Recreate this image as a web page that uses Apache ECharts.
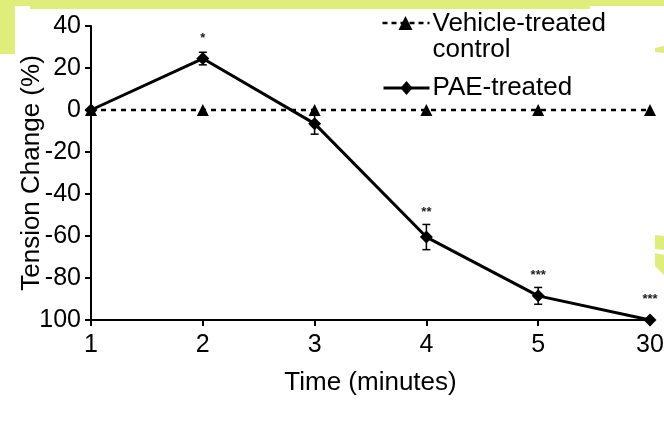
<!DOCTYPE html>
<html><head><meta charset="utf-8">
<script src="https://cdn.jsdelivr.net/npm/echarts@6/dist/echarts.min.js"></script>
<style>html,body{margin:0;padding:0;background:#fff}#c{width:664px;height:423px}</style>
</head><body><div id="c"></div>
<script>
var categories = ['1','2','3','4','5','30'];
var vehicle = [0, 0, 0, 0, 0, 0];
var pae = [0, 24.5, -6.5, -60.5, -88.5, -100];
var paeErr = [0, 3, 5, 6, 4, 0];
var signif = ['', '*', '', '**', '***', '***'];
var yTickLabels = ['100', '-80', '-60', '-40', '-20', '0', '20', '40'];
var seriesNames = ['Vehicle-treated\ncontrol', 'PAE-treated'];

var FONT = 'Liberation Sans';
var YC = '#dfee7b';

var errData = categories.map(function (c, i) {
  return [i, pae[i] - paeErr[i], pae[i] + paeErr[i], signif[i], paeErr[i]];
});

var chart = echarts.init(document.getElementById('c'), null, {renderer: 'canvas'});
chart.setOption({
  backgroundColor: '#ffffff',
  animation: false,
  textStyle: {fontFamily: FONT},
  grid: {left: 91, right: 14, top: 26, bottom: 103, containLabel: false, outerBoundsMode: 'none'},
  xAxis: {
    type: 'category', data: categories, boundaryGap: false,
    name: 'Time (minutes)', nameLocation: 'middle', nameGap: 50, nameMoveOverlap: false,
    nameTextStyle: {fontSize: 26, color: '#000', fontFamily: FONT},
    axisLine: {onZero: false, lineStyle: {color: '#000', width: 2}},
    axisTick: {show: true, length: 6, lineStyle: {color: '#000', width: 2}},
    axisLabel: {fontSize: 25, color: '#000', margin: 13, fontFamily: FONT},
    splitLine: {show: false}
  },
  yAxis: {
    type: 'value', min: -100, max: 40, interval: 20,
    name: 'Tension Change (%)', nameLocation: 'middle', nameGap: 46, nameMoveOverlap: false,
    nameTextStyle: {fontSize: 26, color: '#000', fontFamily: FONT},
    axisLine: {show: true, onZero: false, lineStyle: {color: '#000', width: 2}},
    axisTick: {show: true, length: 6, lineStyle: {color: '#000', width: 2}},
    axisLabel: {fontSize: 25, color: '#000', margin: 10, fontFamily: FONT,
      formatter: function (v) { return yTickLabels[Math.round((v + 100) / 20)]; }},
    splitLine: {show: false}
  },
  series: [
    {
      name: seriesNames[0], type: 'line', data: vehicle,
      symbol: 'triangle', symbolSize: 12,
      lineStyle: {color: '#000', width: 2.5, type: [5, 5]},
      itemStyle: {color: '#000'}, z: 3
    },
    {
      name: seriesNames[1], type: 'line', data: pae,
      symbol: 'diamond', symbolSize: 13,
      lineStyle: {color: '#000', width: 3},
      itemStyle: {color: '#000'}, z: 4
    },
    {
      type: 'custom', data: errData, z: 5,
      renderItem: function (params, api) {
        var x = api.value(0);
        var lo = api.coord([x, api.value(1)]);
        var hi = api.coord([x, api.value(2)]);
        var mid = api.coord([x, (api.value(1) + api.value(2)) / 2]);
        var s = api.value(3);
        var e = api.value(4);
        var children = [];
        var st = {stroke: '#000', lineWidth: 1.5};
        if (e > 0) {
          children.push({type: 'line', shape: {x1: lo[0], y1: lo[1], x2: hi[0], y2: hi[1]}, style: st});
          children.push({type: 'line', shape: {x1: lo[0] - 4, y1: lo[1], x2: lo[0] + 4, y2: lo[1]}, style: st});
          children.push({type: 'line', shape: {x1: hi[0] - 4, y1: hi[1], x2: hi[0] + 4, y2: hi[1]}, style: st});
        }
        if (s) {
          children.push({type: 'text', style: {
            text: s, x: hi[0], y: Math.min(hi[1], mid[1] - 8) - 6,
            align: 'center', verticalAlign: 'bottom',
            font: 'bold 13px ' + FONT, fill: '#222'
          }});
        }
        return {type: 'group', children: children};
      }
    }
  ],
  graphic: [
    {type: 'rect', z: -10, shape: {x: 0, y: 0, width: 664, height: 6}, style: {fill: YC}},
    {type: 'rect', z: -10, shape: {x: 30, y: 0, width: 560, height: 9}, style: {fill: YC}},
    {type: 'rect', z: -10, shape: {x: 0, y: 0, width: 15, height: 54}, style: {fill: YC}},
    {type: 'polygon', z: -10, shape: {points: [[655, 48], [664, 46], [664, 53], [655, 52]]}, style: {fill: YC}},
    {type: 'polygon', z: -10, shape: {points: [[655, 235], [664, 236], [664, 250], [655, 249]]}, style: {fill: YC}},
    {type: 'polygon', z: -10, shape: {points: [[655, 253], [664, 255], [664, 275], [655, 266]]}, style: {fill: YC}},
    // legend
    {type: 'group', left: 380, top: 11, children: [
      {type: 'line', shape: {x1: 0, y1: 12, x2: 47, y2: 12}, style: {stroke: '#000', lineWidth: 2.5, lineDash: [5, 4]}},
      {type: 'polygon', shape: {points: [[23, 5], [30, 19], [16, 19]]}, style: {fill: '#000'}},
      {type: 'text', style: {text: seriesNames[0], x: 50, y: 0, font: '26px ' + FONT, fill: '#000', lineHeight: 26}},
      {type: 'line', shape: {x1: 1, y1: 77, x2: 47, y2: 77}, style: {stroke: '#000', lineWidth: 3}},
      {type: 'polygon', shape: {points: [[24, 70], [30, 77], [24, 84], [18, 77]]}, style: {fill: '#000'}},
      {type: 'text', style: {text: seriesNames[1], x: 50, y: 64, font: '26px ' + FONT, fill: '#000', lineHeight: 26}}
    ]}
  ]
});
</script></body></html>
